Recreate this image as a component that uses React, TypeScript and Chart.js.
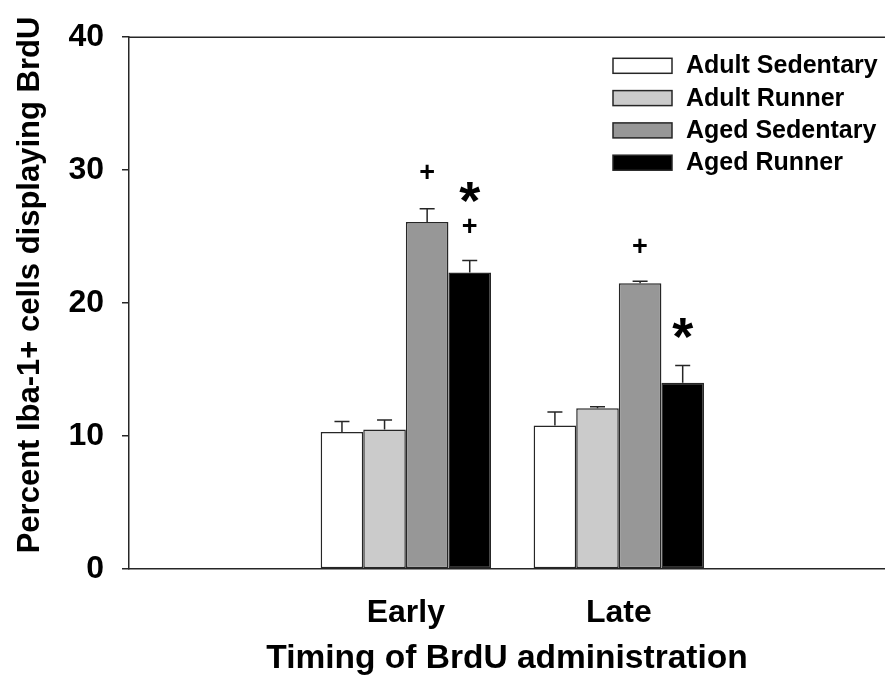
import React, { useEffect, useRef } from "react";
import { Chart, registerables } from "chart.js";

Chart.register(...registerables);

const FONT = '"Liberation Sans", Arial, Helvetica, sans-serif';

// ---- data ----
const categories = ["Early", "Late"];
const categoryPositions = [1, 2];
const seriesNames = ["Adult Sedentary", "Adult Runner", "Aged Sedentary", "Aged Runner"];
const adultSedentary = [10.3, 10.8];
const adultRunner = [10.5, 12.1];
const agedSedentary = [26.1, 21.5];
const agedRunner = [22.3, 14.0];
const adultSedentaryErr = [0.8, 1.0];
const adultRunnerErr = [0.7, 0.1];
const agedSedentaryErr = [1.0, 0.15];
const agedRunnerErr = [0.9, 1.3];
const yTicks = [0, 10, 20, 30, 40];
const xAxisTitle = "Timing of BrdU administration";
const yAxisTitle = "Percent Iba-1+ cells displaying BrdU";
// significance markers
const markerText = ["+", "*", "+", "+", "*"];
const markerSeries = [2, 3, 3, 2, 3];
const markerCategory = [0, 0, 0, 1, 1];
const markerValue = [29.9, 28.3, 25.8, 24.3, 18.1];

const seriesValues = [adultSedentary, adultRunner, agedSedentary, agedRunner];
const seriesErrors = [adultSedentaryErr, adultRunnerErr, agedSedentaryErr, agedRunnerErr];
const seriesColors = ["#ffffff", "#cbcbcb", "#979797", "#000000"];
const LINE = "#262626";

const extrasPlugin = {
  id: "extras",
  afterDatasetsDraw(chart: any) {
    const ctx = chart.ctx as CanvasRenderingContext2D;
    const yScale = chart.scales.y;
    const area = chart.chartArea;
    ctx.save();
    // top frame line
    ctx.strokeStyle = LINE;
    ctx.lineWidth = 1.5;
    ctx.beginPath();
    ctx.moveTo(area.left, area.top);
    ctx.lineTo(area.right, area.top);
    ctx.stroke();

    // error bars (upper only)
    seriesErrors.forEach((errs, di) => {
      const meta = chart.getDatasetMeta(di);
      meta.data.forEach((bar: any, i: number) => {
        const v = seriesValues[di][i];
        const top = yScale.getPixelForValue(v + errs[i]);
        const x = bar.x;
        ctx.beginPath();
        ctx.moveTo(x, bar.y);
        ctx.lineTo(x, top);
        ctx.moveTo(x - 7.5, top);
        ctx.lineTo(x + 7.5, top);
        ctx.stroke();
      });
    });

    // markers
    ctx.fillStyle = "#000";
    markerText.forEach((t, k) => {
      const meta = chart.getDatasetMeta(markerSeries[k]);
      const bar: any = meta.data[markerCategory[k]];
      const cx = bar.x;
      const cy = yScale.getPixelForValue(markerValue[k]);
      const size = t === "*" ? 54 : 27;
      ctx.font = `bold ${size}px ${FONT}`;
      ctx.textAlign = "left";
      ctx.textBaseline = "alphabetic";
      const m = ctx.measureText(t);
      const w = m.actualBoundingBoxLeft + m.actualBoundingBoxRight;
      const x0 = cx - w / 2 + m.actualBoundingBoxLeft;
      const base = cy + (m.actualBoundingBoxAscent - m.actualBoundingBoxDescent) / 2;
      ctx.fillText(t, x0, base);
    });

    // legend
    seriesNames.forEach((name, i) => {
      const bx = 613;
      const by = 58.3 + i * 32.3;
      ctx.fillStyle = seriesColors[i];
      ctx.fillRect(bx, by, 59, 15);
      ctx.strokeStyle = LINE;
      ctx.lineWidth = 1.5;
      ctx.strokeRect(bx, by, 59, 15);
      ctx.fillStyle = "#000";
      ctx.font = `bold 25px ${FONT}`;
      ctx.textAlign = "left";
      ctx.textBaseline = "alphabetic";
      ctx.fillText(name, 686, by + 15);
    });

    // y axis title
    ctx.translate(39, 285);
    ctx.rotate(-Math.PI / 2);
    ctx.font = `bold 31px ${FONT}`;
    ctx.textAlign = "center";
    ctx.textBaseline = "alphabetic";
    ctx.fillStyle = "#000";
    ctx.fillText(yAxisTitle, 0, 0);
    ctx.restore();
  },
};

export default function App() {
  const ref = useRef<HTMLCanvasElement | null>(null);
  useEffect(() => {
    if (!ref.current) return;
    const chart = new Chart(ref.current, {
      type: "bar",
      data: {
        datasets: seriesNames.map((name, di) => ({
          label: name,
          data: categoryPositions.map((x, i) => ({ x, y: seriesValues[di][i] })),
          backgroundColor: seriesColors[di],
          borderColor: LINE,
          borderWidth: 1.5,
          borderSkipped: false,
          categoryPercentage: 0.8,
          barPercentage: 1.0,
        })),
      },
      options: {
        animation: false,
        responsive: false,
        devicePixelRatio: 1,
        layout: { padding: { top: 33, left: 0, right: 0, bottom: 0 } },
        plugins: { legend: { display: false }, tooltip: { enabled: false } },
        scales: {
          x: {
            type: "linear",
            offset: false,
            min: -0.3,
            max: 3.25,
            afterBuildTicks: (s: any) => {
              s.ticks = categoryPositions.map((v) => ({ value: v }));
            },
            afterFit: (s: any) => {
              s.height = 111;
            },
            ticks: {
              callback: (v: any) => {
                const i = categoryPositions.indexOf(Number(v));
                return i >= 0 ? categories[i] : "";
              },
              font: { family: FONT, size: 32, weight: "bold" },
              color: "#000",
              padding: 25,
              autoSkip: false,
              maxRotation: 0,
            },
            grid: { display: false, drawTicks: false, offset: false },
            border: { display: true, color: LINE, width: 1.5 },
            title: {
              display: true,
              text: xAxisTitle,
              font: { family: FONT, size: 33.5, weight: "bold" },
              color: "#000",
              padding: { top: 0, bottom: 1 },
            },
          },
          y: {
            min: 0,
            max: 40,
            afterBuildTicks: (s: any) => {
              s.ticks = yTicks.map((v) => ({ value: v }));
            },
            afterFit: (s: any) => {
              s.width = 129;
            },
            ticks: {
              font: { family: FONT, size: 32, weight: "bold" },
              color: "#000",
              padding: 18,
            },
            grid: {
              display: true,
              drawOnChartArea: false,
              drawTicks: true,
              tickLength: 7,
              color: LINE,
              lineWidth: 1.5,
            },
            border: { display: true, color: LINE, width: 1.5 },
          },
        },
      } as any,
      plugins: [extrasPlugin],
    });
    return () => chart.destroy();
  }, []);
  return (
    <div style={{ position: "fixed", left: 0, top: 0, width: 885, height: 680, background: "#fff" }}>
      <canvas ref={ref} width={885} height={680} style={{ display: "block" }} />
    </div>
  );
}
